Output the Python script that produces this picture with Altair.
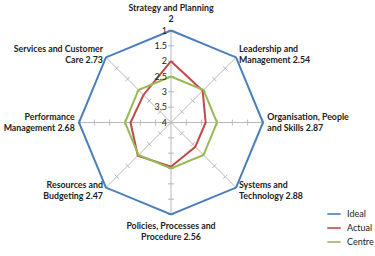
import altair as alt
import numpy as np
import pandas as pd

# Radar chart: eight capability areas, scored on a reversed 1-4 scale (1 at the rim, 4 at the centre)
categories = [
    "Strategy and Planning",
    "Leadership and Management",
    "Organisation, People and Skills",
    "Systems and Technology",
    "Policies, Processes and Procedure",
    "Resources and Budgeting",
    "Performance Management",
    "Services and Customer Care",
]
# category names as wrapped on the chart, the Actual score is appended
label_names = [
    "Strategy and Planning\n",
    "Leadership and\nManagement ",
    "Organisation, People\nand Skills ",
    "Systems and\nTechnology ",
    "Policies, Processes and\nProcedure ",
    "Resources and\nBudgeting ",
    "Performance\nManagement ",
    "Services and Customer\nCare ",
]
series_names = ["Ideal", "Actual", "Centre"]
ideal = [1, 1, 1, 1, 1, 1, 1, 1]
actual = [2, 2.54, 2.87, 2.88, 2.56, 2.47, 2.68, 2.73]
centre = [2.5, 2.5, 2.5, 2.5, 2.5, 2.5, 2.5, 2.5]
scale_ticks = [1, 1.5, 2, 2.5, 3, 3.5, 4]
series_colors = ["#4a7ebb", "#be4b48", "#98b954"]

SCALE_MIN, SCALE_MAX = 1, 4
RIM = SCALE_MAX - SCALE_MIN
W, H = 375, 256
PX = 92 / RIM          # pixels per scale unit
CX, CY = 171, 122.5    # centre of the web in pixels
FONT = "Lato"
LINE_H = 11.5

n = len(categories)
angles = np.arange(n) * 2 * np.pi / n


def polar(value, k):
    r = SCALE_MAX - value
    return r * np.sin(angles[k]), r * np.cos(angles[k])


# series polygons (closed by repeating the first spoke)
rows = []
for s, vals in zip(series_names, [ideal, actual, centre]):
    for i in range(n + 1):
        k = i % n
        x, y = polar(vals[k], k)
        rows.append({"series": s, "idx": i, "x": x, "y": y})
lines_df = pd.DataFrame(rows)

# spokes
spokes = pd.DataFrame({
    "x": [0.0] * n, "y": [0.0] * n,
    "x2": [RIM * np.sin(a) for a in angles],
    "y2": [RIM * np.cos(a) for a in angles],
})

# tick crosses on each spoke
half = 3 / PX
trows = []
for k, a in enumerate(angles):
    for v in scale_ticks[:-1]:
        x, y = polar(v, k)
        px, py = np.cos(a), -np.sin(a)
        trows.append({"x": x - half * px, "y": y - half * py,
                      "x2": x + half * px, "y2": y + half * py})
ticks_df = pd.DataFrame(trows)

# scale labels along the vertical spoke
tick_labels = pd.DataFrame({
    "x": [0.0] * len(scale_ticks),
    "y": [SCALE_MAX - v for v in scale_ticks],
    "t": [f"{v:g}" for v in scale_ticks],
})

# category labels just outside the rim; y is the centre of the first text line
lrows = []
for k, a in enumerate(angles):
    s_, c_ = np.sin(a), np.cos(a)
    vx, vy = RIM * s_, RIM * c_
    nl = label_names[k].count("\n") + 1
    if c_ > 0.99:            # top: block sits above the rim
        side = "center"
        x = vx
        y = vy + (7 + (nl - 0.5) * LINE_H - 1.5) / PX
    elif c_ < -0.99:         # bottom: block hangs below the rim
        side = "center"
        x = vx
        y = vy - (6.5 + 0.5 * LINE_H - 1) / PX
    else:                    # sides: block centred beside the rim point
        side = "left" if s_ > 0 else "right"
        x = vx + 4.2 * s_ / PX
        y = vy + 4.2 * c_ / PX + ((nl - 1) * LINE_H / 2) / PX
    lrows.append({"x": x, "y": y, "side": side,
                  "label": label_names[k] + f"{actual[k]:g}"})
labels_df = pd.DataFrame(lrows)

xs = alt.Scale(domain=[-CX / PX, (W - CX) / PX], nice=False, zero=False)
ys = alt.Scale(domain=[-(H - CY) / PX, CY / PX], nice=False, zero=False)
X = alt.X("x:Q", scale=xs, axis=None)
Y = alt.Y("y:Q", scale=ys, axis=None)

spoke_layer = alt.Chart(spokes).mark_rule(color="#b8b8b8", strokeWidth=1).encode(
    x=X, y=Y, x2="x2:Q", y2="y2:Q")
tick_layer = alt.Chart(ticks_df).mark_rule(color="#b8b8b8", strokeWidth=1).encode(
    x=X, y=Y, x2="x2:Q", y2="y2:Q")
tick_text = alt.Chart(tick_labels).mark_text(
    align="right", baseline="middle", dx=-4, font=FONT, fontSize=9, color="#222"
).encode(x=X, y=Y, text="t:N")

line_layer = alt.Chart(lines_df).mark_line(strokeWidth=2).encode(
    x=X, y=Y,
    order=alt.Order("idx:Q"),
    color=alt.Color(
        "series:N",
        scale=alt.Scale(domain=series_names, range=series_colors),
        sort=series_names,
        legend=alt.Legend(
            title=None, orient="none", legendX=326, legendY=206,
            symbolType="stroke", symbolStrokeWidth=1.6, symbolSize=180,
            labelFont=FONT, labelFontSize=9, labelColor="#222",
            rowPadding=1, labelOffset=5,
        ),
    ),
)


def label_layer(side):
    return alt.Chart(labels_df[labels_df["side"] == side]).mark_text(
        align=side, baseline="middle", lineBreak="\n", lineHeight=LINE_H,
        font=FONT, fontSize=8.8, fontWeight="bold", color="#222"
    ).encode(x=X, y=Y, text="label:N")


labels = label_layer("center") + label_layer("left") + label_layer("right")

chart = alt.layer(spoke_layer, tick_layer, line_layer, tick_text, labels).properties(
    width=W, height=H, autosize=alt.AutoSizeParams(type="none"), padding=0
).configure_view(stroke=None)

chart.save("out.html", embed_options={"renderer": "svg", "actions": False})
